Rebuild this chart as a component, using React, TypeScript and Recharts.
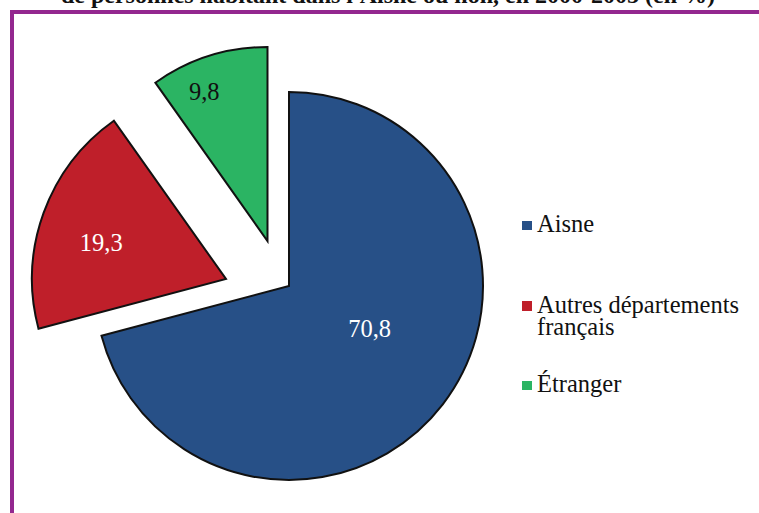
import React from 'react';
import { PieChart, Pie, Cell, Legend } from 'recharts';

const TITLE = "de personnes habitant dans l'Aisne ou non, en 2000-2005 (en %)";
const categories = ['Aisne', 'Autres départements français', 'Étranger'];
const values = [70.8, 19.3, 9.8];

const COLORS = ['#275087', '#BF1F2A', '#2BB463'];
const LABEL_COLORS = ['#ffffff', '#ffffff', '#111111'];
const CENTER = { x: 289, y: 286 };
const RADIUS = 194;
// explosion offsets per slice (layout)
const OFFSETS = [
  { dx: 0, dy: 0 },
  { dx: -63, dy: -7 },
  { dx: -21.5, dy: -45 },
];
// label placement: radius and angle tweak relative to each slice's mid angle
const LABEL_POS = [
  { r: 91, da: 10 },
  { r: 130, da: 3.5 },
  { r: 162, da: 5.3 },
];
const LEGEND_TOPS = [0, 80.3, 160];

const FONT = '"Liberation Serif", "Times New Roman", serif';
const RAD = Math.PI / 180;

const pieData = categories.map((name, i) => ({ name, value: values[i] }));

const fmt = (v: number) => v.toFixed(1).replace('.', ',');

const makeLabel = (k: number) => (props: any) => {
  const { cx, cy, midAngle, index, value } = props;
  if (index !== k) return null;
  const a = (midAngle + LABEL_POS[k].da) * RAD;
  const x = cx + LABEL_POS[k].r * Math.cos(-a);
  const y = cy + LABEL_POS[k].r * Math.sin(-a);
  return (
    <text
      x={x}
      y={y}
      fill={LABEL_COLORS[k]}
      textAnchor="middle"
      dominantBaseline="central"
      fontFamily={FONT}
      fontSize={24.5}
    >
      {fmt(value)}
    </text>
  );
};

const renderLegend = () => (
  <div style={{ position: 'relative', width: 237, height: 200, fontFamily: FONT, fontSize: 24.5, lineHeight: '22px', color: '#111' }}>
    {categories.map((c, i) => (
      <div key={c} style={{ position: 'absolute', left: 0, top: LEGEND_TOPS[i], width: 237 }}>
        <div style={{ position: 'absolute', left: 0, top: 7.4, width: 9.5, height: 9.5, background: COLORS[i] }} />
        <div style={{ marginLeft: 15, maxWidth: 212 }}>{c}</div>
      </div>
    ))}
  </div>
);

export default function App() {
  return (
    <div style={{ position: 'absolute', left: 0, top: 0, width: 759, height: 513, overflow: 'hidden', background: '#fff' }}>
      <div
        style={{
          position: 'absolute',
          left: 0,
          top: -17,
          width: 776,
          textAlign: 'center',
          fontFamily: FONT,
          fontWeight: 'bold',
          fontSize: 24,
          lineHeight: '24px',
          color: '#111',
          whiteSpace: 'nowrap',
        }}
      >
        {TITLE}
      </div>
      <div style={{ position: 'absolute', left: 10, top: 10, width: 800, height: 600, border: '4px solid #93278F', boxSizing: 'border-box' }} />
      <div style={{ position: 'absolute', left: 0, top: 0 }}>
        <PieChart width={759} height={513} margin={{ top: 0, right: 0, bottom: 0, left: 0 }}>
          {[0, 1, 2].map((k) => (
            <Pie
              key={k}
              data={pieData}
              dataKey="value"
              nameKey="name"
              cx={CENTER.x + OFFSETS[k].dx}
              cy={CENTER.y + OFFSETS[k].dy}
              outerRadius={RADIUS}
              innerRadius={0}
              startAngle={90}
              endAngle={-270}
              isAnimationActive={false}
              labelLine={false}
              label={makeLabel(k)}
            >
              {pieData.map((d, i) => (
                <Cell
                  key={d.name}
                  fill={i === k ? COLORS[i] : 'none'}
                  stroke={i === k ? '#111' : 'none'}
                  strokeWidth={i === k ? 2 : 0}
                />
              ))}
            </Pie>
          ))}
          <Legend
            content={renderLegend}
            wrapperStyle={{ position: 'absolute', left: 522, top: 213.4, width: 237, height: 200 }}
          />
        </PieChart>
      </div>
    </div>
  );
}
